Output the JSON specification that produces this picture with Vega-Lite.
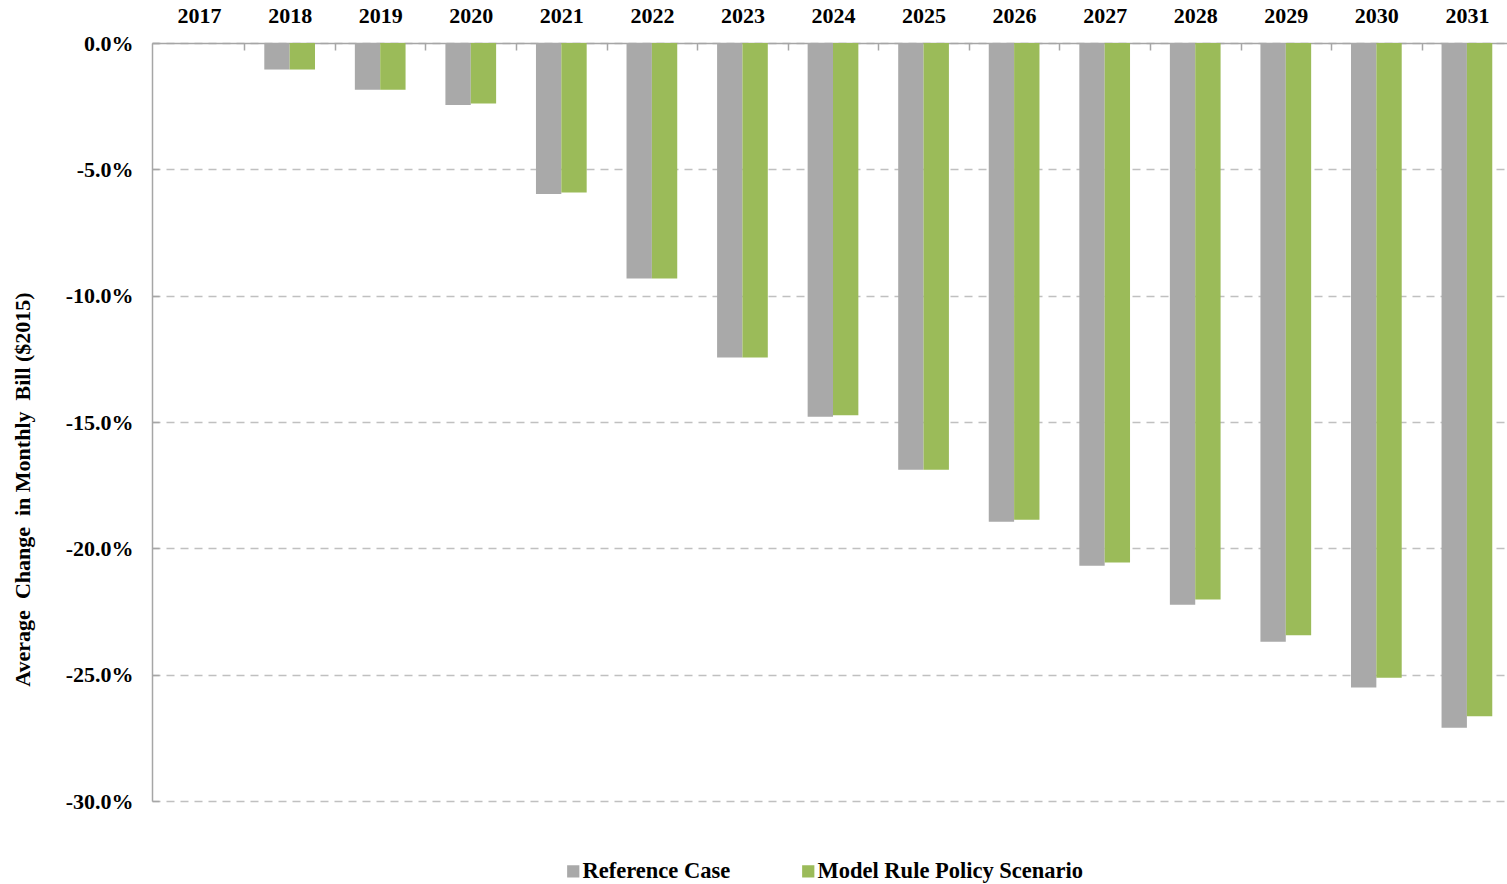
{
  "$schema": "https://vega.github.io/schema/vega-lite/v6.json",
  "autosize": "none",
  "width": 1362,
  "height": 758,
  "padding": {"left": 152, "top": 43, "right": 0, "bottom": 83},
  "background": "white",
  "config": {
    "view": {"stroke": null},
    "font": "Liberation Serif"
  },
  "data": {
    "values": [
      {"year": "2017", "series": "Reference Case", "value": 0},
      {"year": "2017", "series": "Model Rule Policy Scenario", "value": 0},
      {"year": "2018", "series": "Reference Case", "value": -1.05},
      {"year": "2018", "series": "Model Rule Policy Scenario", "value": -1.05},
      {"year": "2019", "series": "Reference Case", "value": -1.85},
      {"year": "2019", "series": "Model Rule Policy Scenario", "value": -1.85},
      {"year": "2020", "series": "Reference Case", "value": -2.45},
      {"year": "2020", "series": "Model Rule Policy Scenario", "value": -2.39},
      {"year": "2021", "series": "Reference Case", "value": -5.98},
      {"year": "2021", "series": "Model Rule Policy Scenario", "value": -5.92},
      {"year": "2022", "series": "Reference Case", "value": -9.32},
      {"year": "2022", "series": "Model Rule Policy Scenario", "value": -9.32},
      {"year": "2023", "series": "Reference Case", "value": -12.45},
      {"year": "2023", "series": "Model Rule Policy Scenario", "value": -12.45},
      {"year": "2024", "series": "Reference Case", "value": -14.79},
      {"year": "2024", "series": "Model Rule Policy Scenario", "value": -14.73},
      {"year": "2025", "series": "Reference Case", "value": -16.89},
      {"year": "2025", "series": "Model Rule Policy Scenario", "value": -16.89},
      {"year": "2026", "series": "Reference Case", "value": -18.95},
      {"year": "2026", "series": "Model Rule Policy Scenario", "value": -18.87},
      {"year": "2027", "series": "Reference Case", "value": -20.69},
      {"year": "2027", "series": "Model Rule Policy Scenario", "value": -20.56},
      {"year": "2028", "series": "Reference Case", "value": -22.23},
      {"year": "2028", "series": "Model Rule Policy Scenario", "value": -22.03},
      {"year": "2029", "series": "Reference Case", "value": -23.70},
      {"year": "2029", "series": "Model Rule Policy Scenario", "value": -23.44},
      {"year": "2030", "series": "Reference Case", "value": -25.51},
      {"year": "2030", "series": "Model Rule Policy Scenario", "value": -25.12},
      {"year": "2031", "series": "Reference Case", "value": -27.10},
      {"year": "2031", "series": "Model Rule Policy Scenario", "value": -26.65}
    ]
  },
  "mark": {"type": "bar"},
  "encoding": {
    "x": {
      "field": "year",
      "type": "nominal",
      "sort": null,
      "scale": {"paddingInner": 0.44, "paddingOuter": 0.24},
      "axis": {
        "orient": "top",
        "title": null,
        "labelAngle": 0,
        "labelFont": "Liberation Serif",
        "labelFontWeight": "bold",
        "labelFontSize": 22,
        "labelColor": "black",
        "labelPadding": 23,
        "labelOffset": -45.28,
        "domainColor": "#a6a6a6",
        "domainWidth": 1.5,
        "tickColor": "#a6a6a6",
        "tickWidth": 1.5,
        "tickSize": -7,
        "tickOffset": 45.28,
        "grid": false
      }
    },
    "xOffset": {
      "field": "series",
      "type": "nominal",
      "sort": ["Reference Case", "Model Rule Policy Scenario"]
    },
    "y": {
      "field": "value",
      "type": "quantitative",
      "scale": {"domain": [-30, 0], "nice": false, "zero": true},
      "axis": {
        "title": "Average\u00a0 Change\u00a0 in Monthly\u00a0 Bill ($2015)",
        "titleFont": "Liberation Serif",
        "titleFontWeight": "bold",
        "titleFontSize": 22,
        "titleColor": "black",
        "titleAngle": -90,
        "titleX": -130,
        "titleY": 446,
        "titleAlign": "center",
        "titleBaseline": "middle",
        "values": [0, -5, -10, -15, -20, -25, -30],
        "labelExpr": "(datum.value < 0 ? '-' : '') + format(abs(datum.value), '.1f') + '%'",
        "labelFont": "Liberation Serif",
        "labelFontWeight": "bold",
        "labelFontSize": 22,
        "labelColor": "black",
        "labelPadding": 26,
        "domainColor": "#a6a6a6",
        "domainWidth": 1.5,
        "tickColor": "#a6a6a6",
        "tickWidth": 1.5,
        "tickSize": -7,
        "grid": true,
        "gridColor": "#c0c0c0",
        "gridDash": [8, 6],
        "gridWidth": 1.5
      }
    },
    "color": {
      "field": "series",
      "type": "nominal",
      "sort": ["Reference Case", "Model Rule Policy Scenario"],
      "scale": {
        "domain": ["Reference Case", "Model Rule Policy Scenario"],
        "range": ["#a9a9a9", "#9bbb59"]
      },
      "legend": {
        "title": null,
        "orient": "none",
        "legendX": 410,
        "legendY": 817,
        "direction": "horizontal",
        "symbolType": "square",
        "symbolSize": 150,
        "symbolStrokeWidth": 0,
        "labelFont": "Liberation Serif",
        "labelFontWeight": "bold",
        "labelFontSize": 22.5,
        "labelColor": "black",
        "labelLimit": 0,
        "columnPadding": 66,
        "labelOffset": -2
      }
    }
  }
}
